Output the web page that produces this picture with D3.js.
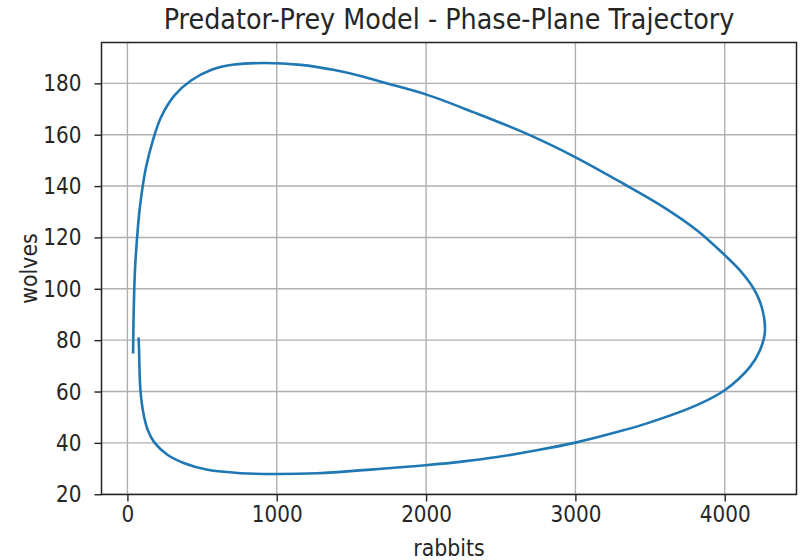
<!DOCTYPE html>
<html>
<head>
<meta charset="utf-8">
<script src="https://cdn.jsdelivr.net/npm/d3@7"></script>
<style>
  html, body { margin: 0; padding: 0; background: #fff; }
  text { font-family: "DejaVu Sans", sans-serif; fill: #262626; }
</style>
</head>
<body>
<svg id="chart" width="800" height="560"></svg>
<script>
// Trajectory (in drawing order)
const rabbits = [75, 78, 80, 87, 107, 136, 180, 270, 381, 537, 760, 994, 1273, 1607, 1997, 2253, 2476, 2750, 3000, 3278, 3479, 3813, 4002, 4169, 4236, 4269, 4247, 4191, 4102, 4002, 3813, 3590, 3322, 3001, 2676, 2320, 2003, 1718, 1562, 1386, 1161, 916, 715, 560, 426, 314, 225, 170, 125, 100, 80, 65, 53, 46, 41, 39, 38];
const wolves  = [80.5, 76, 71, 60.6, 51.5, 45, 40.2, 35.3, 32.1, 29.5, 28.2, 27.9, 28.2, 29.5, 31.3, 32.8, 34.5, 37.2, 40.1, 44.2, 47.6, 54.7, 60.6, 69.6, 76.1, 83.2, 93, 100.3, 107.2, 113, 122.8, 131.8, 140.9, 151.2, 160.3, 168.7, 175.6, 180.3, 182.9, 185.2, 187.2, 187.9, 187.3, 185.2, 181.1, 175.2, 166.8, 157.7, 147.4, 139, 130, 120, 110, 100, 88, 80, 75.3];
const xTicks = [0, 1000, 2000, 3000, 4000];
const yTicks = [20, 40, 60, 80, 100, 120, 140, 160, 180];
const titleText = "Predator-Prey Model - Phase-Plane Trajectory";
const xLabel = "rabbits";
const yLabel = "wolves";

const svg = d3.select("#chart");
const M = { left: 101.5, right: 796.5, top: 42.5, bottom: 494.5 };
const STRETCH = 1.14;

function padded(ext) {
  const r = ext[1] - ext[0];
  return [ext[0] - 0.05 * r, ext[1] + 0.05 * r];
}
const x = d3.scaleLinear().domain(padded(d3.extent(rabbits))).range([M.left, M.right]);
const y = d3.scaleLinear().domain(padded(d3.extent(wolves))).range([M.bottom, M.top]);

// grid
const grid = svg.append("g");
grid.selectAll("line.gx").data(xTicks).join("line")
  .attr("x1", d => x(d)).attr("x2", d => x(d))
  .attr("y1", M.top).attr("y2", M.bottom)
  .attr("stroke", "#b0b0b0").attr("stroke-width", 1.4);
grid.selectAll("line.gy").data(yTicks).join("line")
  .attr("y1", d => y(d)).attr("y2", d => y(d))
  .attr("x1", M.left).attr("x2", M.right)
  .attr("stroke", "#b0b0b0").attr("stroke-width", 1.4);

// trajectory
const pts = rabbits.map((r, i) => [r, wolves[i]]);
svg.append("path")
  .datum(pts)
  .attr("fill", "none")
  .attr("stroke", "#1f77b4")
  .attr("stroke-width", 2.6)
  .attr("stroke-linecap", "square")
  .attr("stroke-linejoin", "round")
  .attr("d", d3.line().x(d => x(d[0])).y(d => y(d[1])).curve(d3.curveCatmullRom.alpha(0.5)));

// axes
const xAxis = svg.append("g").attr("transform", `translate(0,${M.bottom})`)
  .call(d3.axisBottom(x).tickValues(xTicks).tickFormat(d3.format("d")).tickSize(7).tickPadding(6));
const yAxis = svg.append("g").attr("transform", `translate(${M.left},0)`)
  .call(d3.axisLeft(y).tickValues(yTicks).tickFormat(d3.format("d")).tickSize(7).tickPadding(13));
[xAxis, yAxis].forEach(a => {
  a.select(".domain").remove();
  a.selectAll(".tick line").attr("stroke", "#222").attr("stroke-width", 1.4);
  a.selectAll(".tick text").attr("font-size", 20).attr("fill", "#262626")
    .style("font-family", "DejaVu Sans, sans-serif");
});
xAxis.selectAll(".tick text").attr("dy", null).attr("y", null)
  .attr("transform", `translate(0,${522 - M.bottom}) scale(1,${STRETCH})`);
yAxis.selectAll(".tick text").attr("dy", null)
  .attr("transform", `translate(0,7.5) scale(1,${STRETCH})`);

// frame
svg.append("rect")
  .attr("x", M.left).attr("y", M.top)
  .attr("width", M.right - M.left).attr("height", M.bottom - M.top)
  .attr("fill", "none").attr("stroke", "#222").attr("stroke-width", 1.5);

// labels
svg.append("text")
  .attr("transform", `translate(${(M.left + M.right) / 2},29) scale(1,${STRETCH})`)
  .attr("text-anchor", "middle").attr("font-size", 25.5).text(titleText);
svg.append("text")
  .attr("transform", `translate(${(M.left + M.right) / 2},556) scale(1,${STRETCH})`)
  .attr("text-anchor", "middle").attr("font-size", 20.5).text(xLabel);
svg.append("text")
  .attr("transform", `translate(37,${(M.top + M.bottom) / 2}) rotate(-90) scale(1,${STRETCH})`)
  .attr("text-anchor", "middle").attr("font-size", 20.5).text(yLabel);
</script>
</body>
</html>
